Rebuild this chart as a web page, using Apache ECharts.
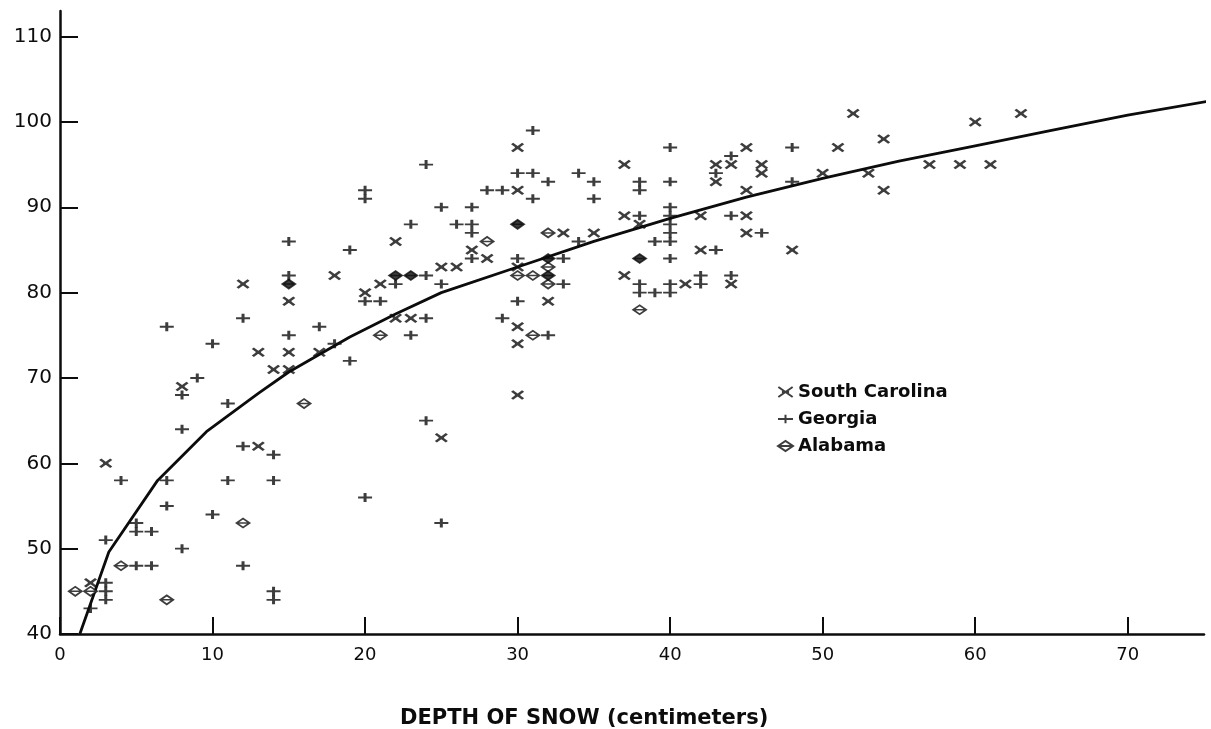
<!DOCTYPE html>
<html lang="en">
    <head>
        <meta http-equiv="Content-Type" content="text/html; charset=utf-8" />
        <title>Depth of snow</title>
        <style>
            * {
                margin: 0;
                padding: 0;
                box-sizing: border-box;
            }
            html,
            body {
                width: 100%;
                height: 100%;
                background: #fff;
            }
            #chart {
                width: 1211px;
                height: 729px;
            }
        </style>
    </head>
    <body>
        <div id="chart"></div>
        <script src="https://cdn.jsdelivr.net/npm/echarts@6/dist/echarts.min.js"></script>
        <script>
            // values: [depth of snow cm, y]
            const southCarolina = [
                [15, 79], [13, 73], [15, 73], [17, 73], [14, 71], [15, 71], [8, 69], [13, 62], [3, 60], [2, 46],
                [22, 86], [12, 81], [18, 82], [21, 81], [20, 80], [25, 83], [22, 77], [23, 77], [25, 63],
                [30, 97], [37, 95], [30, 92], [27, 85], [28, 84], [26, 83], [30, 83], [33, 87], [35, 87],
                [37, 89], [38, 88], [37, 82], [41, 81], [30, 76], [30, 74], [30, 68], [32, 79],
                [52, 101], [63, 101], [60, 100], [54, 98], [45, 97], [51, 97], [43, 95], [44, 95], [46, 95],
                [57, 95], [59, 95], [61, 95], [46, 94], [50, 94], [53, 94], [43, 93], [45, 92], [54, 92],
                [42, 89], [45, 89], [42, 85], [45, 87], [48, 85], [44, 81]
            ]
            const georgia = [
                [12, 77], [7, 76], [17, 76], [15, 75], [10, 74], [18, 74], [19, 72], [9, 70], [8, 68], [11, 67],
                [8, 64], [12, 62], [14, 61], [4, 58], [7, 58], [11, 58], [14, 58], [7, 55], [10, 54], [5, 53],
                [5, 52], [6, 52], [3, 51], [8, 50], [5, 48], [6, 48], [12, 48], [3, 46], [3, 45], [3, 44],
                [2, 43], [14, 45], [14, 44],
                [24, 95], [20, 92], [20, 91], [25, 90], [23, 88], [19, 85], [15, 86], [15, 82], [20, 79],
                [21, 79], [22, 81], [24, 82], [25, 81], [24, 77], [23, 75], [24, 65], [20, 56], [25, 53],
                [31, 99], [40, 97], [30, 94], [31, 94], [34, 94], [32, 93], [35, 93], [35, 91], [38, 93],
                [38, 92], [40, 93], [28, 92], [29, 92], [31, 91], [27, 90], [26, 88], [27, 88], [27, 87],
                [27, 84], [30, 84], [33, 84], [33, 81], [34, 86], [38, 89], [40, 90], [40, 89], [40, 88],
                [40, 87], [40, 86], [39, 86], [40, 84], [38, 81], [38, 80], [39, 80], [40, 81], [40, 80],
                [29, 77], [30, 79], [32, 75],
                [48, 97], [44, 96], [43, 94], [48, 93], [44, 89], [46, 87], [43, 85], [42, 82], [42, 81], [44, 82]
            ]
            const alabama = [
                [1, 45], [2, 45], [4, 48], [7, 44], [12, 53], [16, 67], [21, 75], [28, 86], [30, 82],
                [31, 82], [32, 83], [32, 81], [32, 87], [38, 78], [31, 75]
            ]
            // overlapping marks that print as solid blobs
            const alabamaDense = [[15, 81], [22, 82], [23, 82], [30, 88], [32, 84], [32, 82], [38, 84]]
            // fitted curve
            const curve = [
                [1.3, 40], [3.2, 49.6], [6.4, 58], [9.6, 63.7], [13, 68.2], [15, 70.7], [19, 74.8],
                [22, 77.5], [25, 80], [30, 83], [35, 86], [40, 88.7], [45, 91.2], [50, 93.4],
                [55, 95.4], [60, 97.2], [65, 99], [70, 100.8], [75.5, 102.5]
            ]
            const xTicks = [0, 10, 20, 30, 40, 50, 60, 70]
            const yTicks = [40, 50, 60, 70, 80, 90, 100, 110]

            const ink = '#0c0c0c'
            const font = '"DejaVu Sans", sans-serif'
            const crossPath = 'path://M0,0L10,7M0,7L10,0M2.5,3.5L7.5,3.5'
            const plusPath = 'path://M0,4L14,4M7,0L7,8'
            const diamondPath = 'path://M0,4L6,0L12,4L6,8ZM0,4L12,4'

            const chart = echarts.init(document.getElementById('chart'))
            chart.setOption({
                animation: false,
                backgroundColor: '#fff',
                grid: { left: 60, right: 7, top: 11, bottom: 95 },
                xAxis: {
                    type: 'value',
                    min: 0,
                    max: 75,
                    interval: 10,
                    splitLine: { show: false },
                    axisLine: { onZero: false, lineStyle: { color: ink, width: 2.5 } },
                    axisTick: { inside: true, length: 17, customValues: xTicks, lineStyle: { color: ink, width: 2 } },
                    axisLabel: { customValues: xTicks, color: ink, fontFamily: font, fontSize: 18, margin: 12 },
                },
                yAxis: {
                    type: 'value',
                    min: 40,
                    max: 113,
                    interval: 10,
                    splitLine: { show: false },
                    axisLine: { show: true, onZero: false, lineStyle: { color: ink, width: 2.5 } },
                    axisTick: { show: true, inside: true, length: 18, customValues: yTicks, lineStyle: { color: ink, width: 2 } },
                    axisLabel: { customValues: yTicks, color: ink, fontFamily: font, fontSize: 20, margin: 8 },
                },
                legend: {
                    orient: 'vertical',
                    left: 772,
                    top: 378,
                    itemGap: 9,
                    itemWidth: 15,
                    itemHeight: 10,
                    textStyle: { color: ink, fontFamily: font, fontWeight: 'bold', fontSize: 18 },
                    data: ['South Carolina', 'Georgia', 'Alabama'],
                },
                graphic: [
                    {
                        type: 'text',
                        left: 400,
                        top: 708,
                        style: {
                            text: 'DEPTH OF SNOW (centimeters)',
                            fill: ink,
                            font: 'bold 21px ' + font,
                        },
                    },
                ],
                series: [
                    {
                        type: 'line',
                        data: curve,
                        showSymbol: false,
                        silent: true,
                        lineStyle: { color: ink, width: 2.8 },
                        z: 1,
                    },
                    {
                        name: 'South Carolina',
                        type: 'scatter',
                        data: southCarolina,
                        symbol: crossPath,
                        symbolSize: [11, 8],
                        itemStyle: { color: 'rgba(0,0,0,0)', borderColor: ink, borderWidth: 2.5 },
                        z: 3,
                    },
                    {
                        name: 'Georgia',
                        type: 'scatter',
                        data: georgia,
                        symbol: plusPath,
                        symbolSize: [14, 9],
                        itemStyle: { color: 'rgba(0,0,0,0)', borderColor: ink, borderWidth: 2.4 },
                        z: 3,
                    },
                    {
                        name: 'Alabama',
                        type: 'scatter',
                        data: alabama
                            .map((p) => ({ value: p }))
                            .concat(alabamaDense.map((p) => ({ value: p, itemStyle: { color: ink } }))),
                        symbol: diamondPath,
                        symbolSize: [13, 9],
                        itemStyle: { color: '#fff', borderColor: ink, borderWidth: 1.8 },
                        z: 3,
                    },
                ],
            })
        </script>
    </body>
</html>
